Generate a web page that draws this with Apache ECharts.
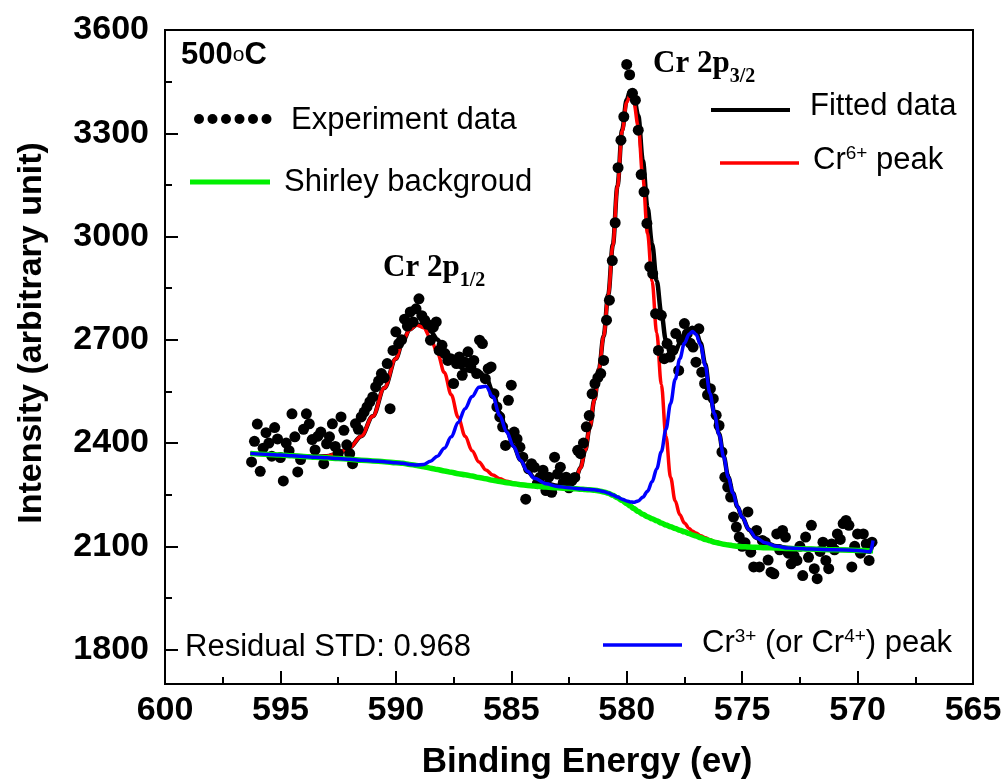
<!DOCTYPE html>
<html><head><meta charset="utf-8">
<script src="https://cdn.jsdelivr.net/npm/echarts@6/dist/echarts.min.js"></script>
<style>html,body{margin:0;padding:0;background:#fff}#c{width:1008px;height:783px}</style>
</head><body><div id="c"></div>
<script>
// ---- Experiment data (binding energy grid: start, step) ----
const expStart = 596.25;
const expStep = 0.125;
const expValues = [
  2345, 2405, 2455, 2318, 2385, 2430, 2400, 2362,
  2445, 2412, 2358, 2290, 2400, 2378, 2485, 2418,
  2316, 2352, 2440, 2485, 2456, 2410, 2380, 2420,
  2432, 2340, 2398, 2418, 2456, 2390, 2370, 2476,
  2437, 2395, 2369, 2340, 2456, 2440, 2476, 2490,
  2505, 2520, 2534, 2563, 2580, 2602, 2590, 2631,
  2500, 2669, 2723, 2689, 2700, 2760, 2740, 2781,
  2752, 2790, 2819, 2770, 2757, 2745, 2699, 2737,
  2752, 2669, 2684, 2660, 2640, 2645, 2573, 2631,
  2650, 2597, 2635, 2665, 2621, 2640, 2602, 2699,
  2689, 2587, 2616, 2621, 2543, 2505, 2476, 2447,
  2393, 2524, 2568, 2432, 2412, 2388, 2359, 2237,
  2325, 2340, 2330, 2282, 2301, 2321, 2262, 2301,
  2257, 2359, 2310, 2330, 2285, 2301, 2270, 2291,
  2300, 2379, 2369, 2400, 2447, 2480, 2543, 2573,
  2590, 2602, 2640, 2757, 2815, 2930, 3040, 3200,
  3280, 3348, 3500, 3470, 3416, 3396, 3309, 3180,
  3130, 3038, 2912, 2892, 2776, 2669, 2771, 2645,
  2689, 2650, 2669, 2718, 2611, 2700, 2747, 2718,
  2690, 2679, 2635, 2732, 2606, 2573, 2540, 2558,
  2529, 2481, 2451, 2374, 2301, 2272, 2243, 2185,
  2156, 2127, 2100, 2110, 2200, 2083, 2040, 2146,
  2040, 2117, 2112, 2060, 2025, 2020, 2136, 2090,
  2146, 2127, 2080, 2049, 2073, 2059, 2100, 2015,
  2127, 2068, 2161, 2035, 2006, 2085, 2112, 2059,
  2035, 2107, 2090, 2136, 2120, 2166, 2175, 2161,
  2040, 2100, 2136, 2080, 2136, 2107, 2059, 2112
];

// ---- Fit curves ----
const fitEnergy = [
  596.3, 595.5, 594.5, 593.5, 593.0, 592.5, 592.0, 591.5, 591.0, 590.5,
  590.0, 589.7, 589.4, 589.1, 588.8, 588.5, 588.2, 587.9, 587.6, 587.3,
  587.0, 586.7, 586.4, 586.1, 585.8, 585.5, 585.2, 584.9, 584.6, 584.3,
  584.0, 583.5, 583.0, 582.5, 582.2, 582.0, 581.8, 581.6, 581.4, 581.2,
  581.0, 580.8, 580.6, 580.4, 580.2, 580.0, 579.85, 579.7, 579.5, 579.3,
  579.1, 578.9, 578.7, 578.5, 578.3, 578.1, 577.9, 577.7, 577.5, 577.3,
  577.15, 577.0, 576.8, 576.6, 576.4, 576.2, 576.0, 575.8, 575.6, 575.4,
  575.2, 575.0, 574.7, 574.4, 574.0, 573.5, 573.0, 572.0, 571.0, 570.0,
  569.45, 569.33
];
const shirleyValues = [
  2370, 2367, 2363, 2359, 2357, 2355, 2353, 2350, 2348, 2346,
  2343, 2341, 2338, 2335, 2331, 2327, 2323, 2319, 2315, 2311,
  2308, 2304, 2300, 2296, 2292, 2288, 2285, 2282, 2279, 2277,
  2275, 2272, 2270, 2268, 2267, 2266, 2265, 2264, 2263, 2261,
  2258, 2254, 2248, 2241, 2233, 2224, 2217, 2210, 2201, 2193,
  2186, 2180, 2174, 2168, 2162, 2157, 2152, 2147, 2142, 2137,
  2133, 2130, 2125, 2120, 2116, 2112, 2109, 2106, 2104, 2102,
  2100, 2099, 2098, 2097, 2096, 2095, 2094, 2092, 2090, 2088,
  2087, 2087
];
const cr6Values = [
  2370, 2367, 2363, 2360, 2362, 2370, 2387, 2420, 2478, 2560,
  2645, 2695, 2730, 2743, 2735, 2705, 2662, 2605, 2540, 2475,
  2420, 2378, 2345, 2322, 2307, 2296, 2289, 2284, 2280, 2278,
  2276, 2273, 2272, 2278, 2298, 2328, 2378, 2445, 2525, 2615,
  2710, 2830, 2975, 3145, 3305, 3390, 3411, 3392, 3320, 3170,
  3010, 2870, 2720, 2570, 2420, 2300, 2232, 2192, 2168, 2152,
  2144, 2139, 2131, 2125, 2119, 2114, 2111, 2107, 2105, 2102,
  2100, 2099, 2098, 2097, 2096, 2095, 2094, 2092, 2090, 2088,
  2087, 2087
];
const cr3Values = [
  2370, 2367, 2363, 2359, 2357, 2355, 2353, 2350, 2348, 2346,
  2343, 2341, 2338, 2336, 2338, 2347, 2362, 2385, 2418, 2460,
  2500, 2535, 2562, 2565, 2535, 2480, 2432, 2390, 2350, 2318,
  2298, 2282, 2274, 2270, 2268, 2267, 2266, 2265, 2264, 2262,
  2259, 2255, 2249, 2243, 2237, 2232, 2229, 2228, 2232, 2243,
  2260, 2288, 2325, 2375, 2440, 2515, 2585, 2645, 2690, 2716,
  2724, 2716, 2685, 2625, 2545, 2485, 2425, 2360, 2300, 2255,
  2215, 2185, 2148, 2125, 2110, 2100, 2095, 2092, 2090, 2088,
  2084, 2117
];
const fittedValues = [
  2370, 2367, 2363, 2360, 2362, 2370, 2387, 2420, 2478, 2560,
  2645, 2695, 2730, 2744, 2742, 2725, 2701, 2671, 2643, 2624,
  2612, 2609, 2607, 2591, 2550, 2488, 2436, 2392, 2351, 2319,
  2299, 2283, 2276, 2280, 2299, 2329, 2379, 2446, 2526, 2616,
  2711, 2831, 2976, 3147, 3309, 3398, 3423, 3410, 3351, 3220,
  3084, 2978, 2871, 2777, 2698, 2658, 2665, 2690, 2716, 2731,
  2735, 2725, 2691, 2630, 2548, 2487, 2427, 2361, 2301, 2255,
  2215, 2185, 2148, 2125, 2110, 2100, 2095, 2092, 2090, 2088,
  2084, 2117
];

// ---- Axis ticks ----
const xMin = 565, xMax = 600, xInterval = 5;
const yMin = 1700, yMax = 3600;
const yMajorTicks = [1800, 2100, 2400, 2700, 3000, 3300, 3600];
const yMinorTicks = [1950, 2250, 2550, 2850, 3150, 3450];

const SANS = '"Liberation Sans", Arial, Helvetica, sans-serif';
const SERIF = '"Liberation Serif", "Times New Roman", serif';

const pair = (vals) => fitEnergy.map((e, i) => [e, vals[i]]);
const expData = expValues.map((v, i) => [+(expStart - i * expStep).toFixed(3), v]);

const chart = echarts.init(document.getElementById('c'), null, {renderer: 'canvas'});

const lineBase = {type: 'line', showSymbol: false, symbol: 'none', smooth: 0.35, smoothMonotone: 'x', animation: false, silent: true};

const option = {
  backgroundColor: '#fff',
  animation: false,
  grid: {left: 165, right: 35, top: 30, bottom: 99, show: true, borderColor: '#000', borderWidth: 2, backgroundColor: 'transparent'},
  xAxis: {
    type: 'value', min: xMin, max: xMax, interval: xInterval, inverse: true,
    axisLine: {lineStyle: {color: '#000', width: 2}},
    axisTick: {inside: true, length: 13, lineStyle: {color: '#000', width: 2}},
    minorTick: {show: true, splitNumber: 2, length: 7, lineStyle: {color: '#000', width: 2}},
    splitLine: {show: false}, minorSplitLine: {show: false},
    axisLabel: {color: '#000', fontFamily: SANS, fontWeight: 'bold', fontSize: 34, margin: 10, formatter: (v) => String(v)}
  },
  yAxis: [{
    type: 'value', min: yMin, max: yMax,
    axisLine: {show: true, lineStyle: {color: '#000', width: 2}},
    axisTick: {show: true, inside: true, length: 13, customValues: yMajorTicks, lineStyle: {color: '#000', width: 2}},
    axisLabel: {customValues: yMajorTicks, color: '#000', fontFamily: SANS, fontWeight: 'bold', fontSize: 34, margin: 16, formatter: (v) => String(v)},
    splitLine: {show: false}
  }, {
    type: 'value', min: yMin, max: yMax, position: 'left',
    axisLine: {show: false},
    axisTick: {show: true, inside: true, length: 7, customValues: yMinorTicks, lineStyle: {color: '#000', width: 2}},
    axisLabel: {show: false},
    splitLine: {show: false}
  }],
  series: [
    Object.assign({}, lineBase, {name: 'Fitted data', data: pair(fittedValues), z: 2, lineStyle: {color: '#000', width: 4.5}, itemStyle: {color: '#000'}}),
    Object.assign({}, lineBase, {name: 'Cr6+ peak', data: pair(cr6Values), z: 3, lineStyle: {color: '#ff0000', width: 3.5}, itemStyle: {color: '#ff0000'}}),
    {type: 'scatter', name: 'Experiment data', data: expData, symbol: 'circle', symbolSize: 11, z: 4, itemStyle: {color: '#000', opacity: 1}, silent: true, animation: false},
    Object.assign({}, lineBase, {name: 'Shirley backgroud', data: pair(shirleyValues), z: 5, lineStyle: {color: '#00f000', width: 5.5}, itemStyle: {color: '#00f000'}}),
    Object.assign({}, lineBase, {name: 'Cr3+ (or Cr4+) peak', data: pair(cr3Values), z: 6, lineStyle: {color: '#0000ff', width: 3.5}, itemStyle: {color: '#0000ff'}})
  ],
  graphic: [
    // axis titles
    {type: 'text', x: 587, y: 762, style: {text: 'Binding Energy (ev)', fill: '#000', font: 'bold 35px ' + SANS, align: 'center', verticalAlign: 'middle'}},
    {type: 'text', x: 32, y: 333, rotation: Math.PI / 2, style: {text: 'Intensity (arbitrary unit)', fill: '#000', font: 'bold 34px ' + SANS, align: 'center', verticalAlign: 'middle'}},
    // 500 oC
    {type: 'text', x: 181, y: 55, style: {text: '500{deg|o}C', fill: '#000', font: 'bold 31px ' + SANS, verticalAlign: 'middle',
      rich: {deg: {fontSize: 21, fontWeight: 'normal', fontFamily: SANS, verticalAlign: 'middle'}}}},
    // peak labels
    {type: 'text', x: 653, y: 48, style: {text: 'Cr 2p{sub|3/2}', fill: '#000', font: 'bold 31px ' + SERIF, verticalAlign: 'top',
      rich: {sub: {fontSize: 20, fontWeight: 'bold', fontFamily: SERIF, lineHeight: 20, padding: [19, 0, 0, 0], verticalAlign: 'top'}}}},
    {type: 'text', x: 383, y: 252, style: {text: 'Cr 2p{sub|1/2}', fill: '#000', font: 'bold 31px ' + SERIF, verticalAlign: 'top',
      rich: {sub: {fontSize: 20, fontWeight: 'bold', fontFamily: SERIF, lineHeight: 20, padding: [19, 0, 0, 0], verticalAlign: 'top'}}}},
    // legend: experiment data
    {type: 'circle', shape: {cx: 199, cy: 119, r: 5}, style: {fill: '#000'}},
    {type: 'circle', shape: {cx: 212.5, cy: 119, r: 5}, style: {fill: '#000'}},
    {type: 'circle', shape: {cx: 226, cy: 119, r: 5}, style: {fill: '#000'}},
    {type: 'circle', shape: {cx: 239.5, cy: 119, r: 5}, style: {fill: '#000'}},
    {type: 'circle', shape: {cx: 253, cy: 119, r: 5}, style: {fill: '#000'}},
    {type: 'circle', shape: {cx: 266.5, cy: 119, r: 5}, style: {fill: '#000'}},
    {type: 'text', x: 291, y: 120, style: {text: 'Experiment data', fill: '#000', font: '31px ' + SANS, verticalAlign: 'middle'}},
    // legend: shirley
    {type: 'line', shape: {x1: 190, y1: 182, x2: 270, y2: 182}, style: {stroke: '#00f000', lineWidth: 5}},
    {type: 'text', x: 284, y: 182, style: {text: 'Shirley backgroud', fill: '#000', font: '31px ' + SANS, verticalAlign: 'middle'}},
    // legend: fitted
    {type: 'line', shape: {x1: 711, y1: 110, x2: 790, y2: 110}, style: {stroke: '#000', lineWidth: 4}},
    {type: 'text', x: 810, y: 106, style: {text: 'Fitted data', fill: '#000', font: '31px ' + SANS, verticalAlign: 'middle'}},
    // legend: Cr6+
    {type: 'line', shape: {x1: 720, y1: 163, x2: 799, y2: 163}, style: {stroke: '#ff0000', lineWidth: 3.5}},
    {type: 'text', x: 813, y: 160, style: {text: 'Cr{sup|6+} peak', fill: '#000', font: '31px ' + SANS, verticalAlign: 'middle',
      rich: {sup: {fontSize: 19, fontFamily: SANS, lineHeight: 16, verticalAlign: 'top'}}}},
    // legend: Cr3+
    {type: 'line', shape: {x1: 603, y1: 645, x2: 682, y2: 645}, style: {stroke: '#0000ff', lineWidth: 3.5}},
    {type: 'text', x: 702, y: 643, style: {text: 'Cr{sup|3+} (or Cr{sup|4+}) peak', fill: '#000', font: '31px ' + SANS, verticalAlign: 'middle',
      rich: {sup: {fontSize: 19, fontFamily: SANS, lineHeight: 16, verticalAlign: 'top'}}}},
    // residual
    {type: 'text', x: 185, y: 647, style: {text: 'Residual STD: 0.968', fill: '#000', font: '31px ' + SANS, verticalAlign: 'middle'}}
  ]
};
chart.setOption(option);
</script>
</body></html>
